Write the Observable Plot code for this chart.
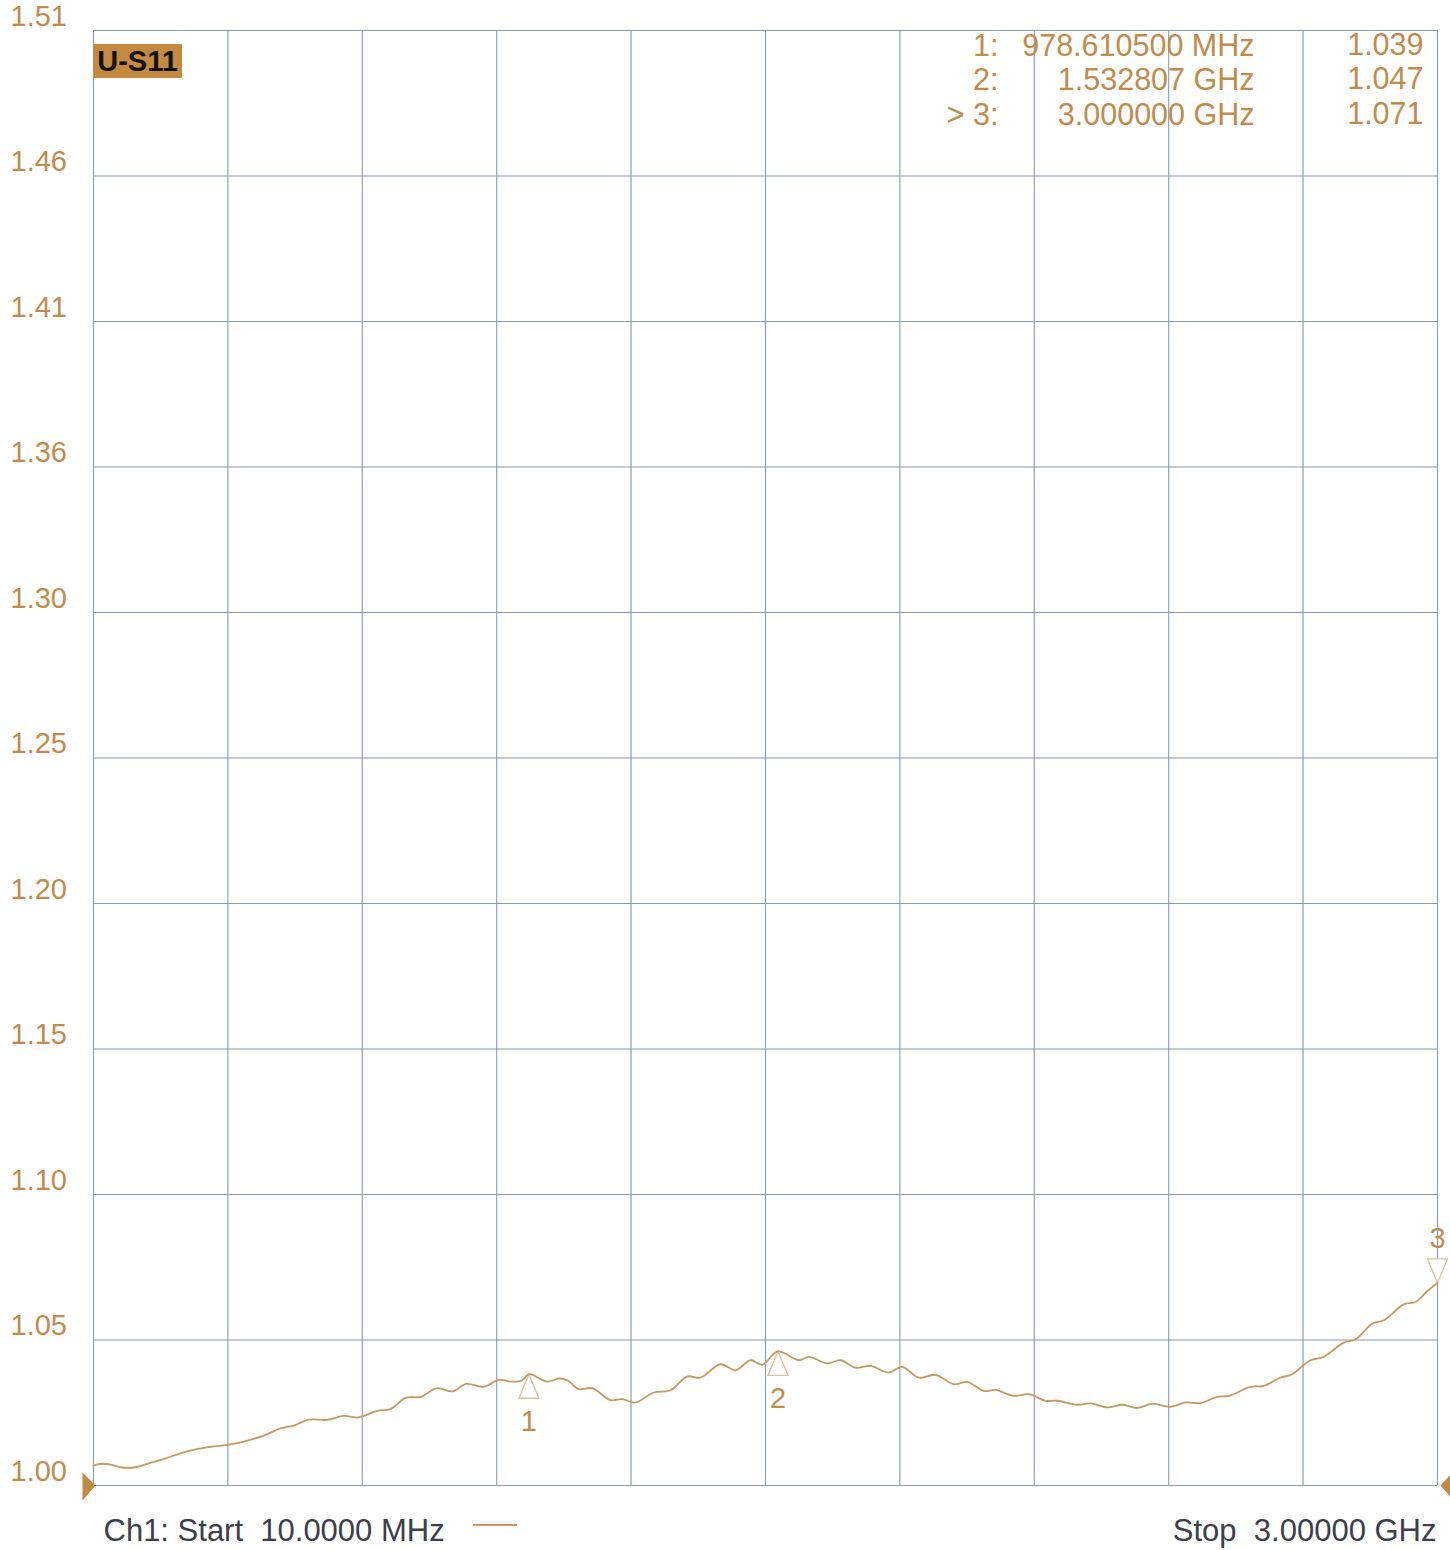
<!DOCTYPE html>
<html>
<head>
<meta charset="utf-8">
<script src="https://cdn.jsdelivr.net/npm/d3@7"></script>
<script src="https://cdn.jsdelivr.net/npm/@observablehq/plot@0.6"></script>
<style>
  body { margin: 0; background: #ffffff; font-family: "Liberation Sans", Arial, sans-serif; }
  #wrap { position: relative; width: 1450px; height: 1550px; }
  #tag { position: absolute; left: 93px; top: 44px; width: 89px; height: 34px; background: #c58a40;
         color: #111; font: bold 29px "Liberation Sans", Arial, sans-serif; line-height: 34px; text-align: center; }
  #legline { position: absolute; left: 473px; top: 1524px; width: 44px; height: 2px; background: #c39a62; }
</style>
</head>
<body>
<div id="wrap">
  <div id="chart"></div>
  <div id="tag">U-S11</div>
  <div id="legline"></div>
</div>
<script>
// ---- data ----
const freqMHz = [10, 25.6, 51.6, 70.1, 103.4, 129.5, 166.4, 218.5, 277.6, 311, 344.4, 388.9, 426, 455.6, 489, 529.9, 566.9, 596.7, 611.3, 641.2, 670.7, 704.1, 737.5, 774.6, 808, 839.8, 878.3, 911.7, 941.5, 963.7, 978.6, 1019.4, 1045.2, 1063.9, 1089.7, 1119.5, 1160.2, 1186.2, 1215.8, 1256.5, 1293.6, 1330.8, 1360.4, 1404.9, 1438.3, 1471.6, 1497.7, 1532.8, 1579.1, 1601.4, 1642.3, 1671.9, 1705.2, 1738.6, 1779.4, 1809.2, 1846.1, 1883.2, 1924, 1953.8, 1990.7, 2016.7, 2057.5, 2090.8, 2128, 2154, 2198.5, 2228.1, 2265.2, 2298.6, 2332, 2365.3, 2406, 2439.4, 2472.8, 2509.9, 2535.7, 2583.9, 2613.5, 2650.6, 2676.6, 2717.3, 2746.9, 2791.4, 2817.4, 2854.6, 2880.4, 2924.9, 2950.9, 2976.9, 3000];
const vswr = [1.0070, 1.0076, 1.0072, 1.0064, 1.0064, 1.0076, 1.0093, 1.0120, 1.0137, 1.0143, 1.0154, 1.0175, 1.0200, 1.0210, 1.0231, 1.0230, 1.0244, 1.0238, 1.0244, 1.0262, 1.0268, 1.0307, 1.0311, 1.0341, 1.0330, 1.0356, 1.0346, 1.0370, 1.0364, 1.0369, 1.0390, 1.0364, 1.0375, 1.0369, 1.0338, 1.0341, 1.0299, 1.0303, 1.0291, 1.0326, 1.0334, 1.0382, 1.0378, 1.0425, 1.0404, 1.0439, 1.0423, 1.0470, 1.0439, 1.0451, 1.0428, 1.0439, 1.0413, 1.0419, 1.0396, 1.0416, 1.0378, 1.0388, 1.0355, 1.0363, 1.0331, 1.0335, 1.0314, 1.0320, 1.0297, 1.0297, 1.0283, 1.0288, 1.0274, 1.0283, 1.0272, 1.0286, 1.0276, 1.0291, 1.0289, 1.0311, 1.0314, 1.0346, 1.0349, 1.0378, 1.0390, 1.0439, 1.0451, 1.0501, 1.0512, 1.0567, 1.0579, 1.0635, 1.0643, 1.0681, 1.0710];

const yTicks = [1.000, 1.051, 1.102, 1.153, 1.204, 1.255, 1.306, 1.357, 1.408, 1.459, 1.510];
const yTickLabels = ["1.00", "1.05", "1.10", "1.15", "1.20", "1.25", "1.30", "1.36", "1.41", "1.46", "1.51"];
const xTicks = [10, 309, 608, 907, 1206, 1505, 1804, 2103, 2402, 2701, 3000];

const markerIds = ["1", "2", "3"];
const markerFreq = [978.6105, 1532.807, 3000];
const markerVal = [1.039, 1.047, 1.071];
const markerRowLabels = ["1:", "2:", "> 3:"];
const markerFreqLabels = ["978.610500 MHz", "1.532807 GHz", "3.000000 GHz"];
const markerValLabels = ["1.039", "1.047", "1.071"];

const startLabel = "Ch1: Start\u00a0\u00a010.0000 MHz";
const stopLabel = "Stop\u00a0\u00a03.00000 GHz";

// ---- build ----
const trace = freqMHz.map((f, i) => ({f, v: vswr[i]}));
const ticks = yTicks.map((t, i) => ({t, label: yTickLabels[i]}));
const markers = markerIds.map((id, i) => ({id, f: markerFreq[i], v: markerVal[i]}));
const markersUp = markers.slice(0, 2);
const markersDown = markers.slice(2);

const tan = "#c08c4e";
const grid = "#7f8eaa";
const font = "Liberation Sans, Arial, sans-serif";

const markerTri = { draw(ctx) { ctx.moveTo(0, 0); ctx.lineTo(10, 24); ctx.lineTo(-10, 24); ctx.closePath(); } };
const startTri = { draw(ctx) { ctx.moveTo(-11, -13); ctx.lineTo(2, 0); ctx.lineTo(-11, 15); ctx.closePath(); } };
const stopTri = { draw(ctx) { ctx.moveTo(3, 0); ctx.lineTo(16, -14); ctx.lineTo(16, 15); ctx.closePath(); } };

const chart = Plot.plot({
  width: 1450,
  height: 1550,
  marginLeft: 93,
  marginRight: 13,
  marginTop: 30,
  marginBottom: 65,
  style: { fontFamily: font, background: "white", overflow: "visible" },
  x: { domain: [10, 3000], axis: null },
  y: { domain: [1.0, 1.51], axis: null },
  marks: [
    Plot.ruleY(yTicks, { stroke: grid, strokeWidth: 1.1, strokeOpacity: 0.9 }),
    Plot.ruleX(xTicks, { stroke: grid, strokeWidth: 1.1, strokeOpacity: 0.9 }),
    Plot.text(ticks, { y: "t", text: "label", frameAnchor: "left", textAnchor: "start", dx: -83, dy: -14,
      fontSize: 29, fill: tan }),
    // marker triangles
    Plot.dot(markersUp, { x: "f", y: "v", r: 5, symbol: markerTri, fill: "white", stroke: "#d8c3a2", strokeWidth: 1.3 }),
    Plot.dot(markersDown, { x: "f", y: "v", r: 5, symbol: markerTri, rotate: 180, fill: "white", stroke: "#d8c3a2", strokeWidth: 1.3 }),
    Plot.line(trace, { x: "f", y: "v", stroke: "#c39a62", strokeWidth: 1.8, curve: "catmull-rom" }),
    Plot.text(markersUp, { x: "f", y: "v", text: "id", dy: 47, fontSize: 29, fill: tan }),
    Plot.text(markersDown, { x: "f", y: "v", text: "id", dy: -44, fontSize: 29, fill: tan }),
    // start / stop markers
    Plot.dot([markers[0]], { x: () => 10, y: () => 1.0, r: 5, symbol: startTri, fill: "#c08a45", stroke: "none" }),
    Plot.dot([markers[0]], { x: () => 3000, y: () => 1.0, r: 5, symbol: stopTri, fill: "#c08a45", stroke: "none" }),
    // marker table
    Plot.text([markerRowLabels.join("\n")], { frameAnchor: "top-right", textAnchor: "end", lineAnchor: "top",
      dx: -439, dy: 1, lineHeight: 1.13, fontSize: 30.5, fill: tan }),
    Plot.text([markerFreqLabels.join("\n")], { frameAnchor: "top-right", textAnchor: "end", lineAnchor: "top",
      dx: -183, dy: 1, lineHeight: 1.13, fontSize: 30.5, fill: tan }),
    Plot.text([markerValLabels.join("\n")], { frameAnchor: "top-right", textAnchor: "end", lineAnchor: "top",
      dx: -14, dy: 0, lineHeight: 1.13, fontSize: 30.5, fill: tan }),
    // footer
    Plot.text([startLabel], { frameAnchor: "bottom-left", textAnchor: "start", lineAnchor: "middle",
      dx: 10, dy: 46, fontSize: 31, fill: "#3d4049" }),
    Plot.text([stopLabel], { frameAnchor: "bottom-right", textAnchor: "end", lineAnchor: "middle",
      dx: -1, dy: 46, fontSize: 31, fill: "#3d4049" })
  ]
});
document.getElementById("chart").appendChild(chart);
</script>
</body>
</html>
